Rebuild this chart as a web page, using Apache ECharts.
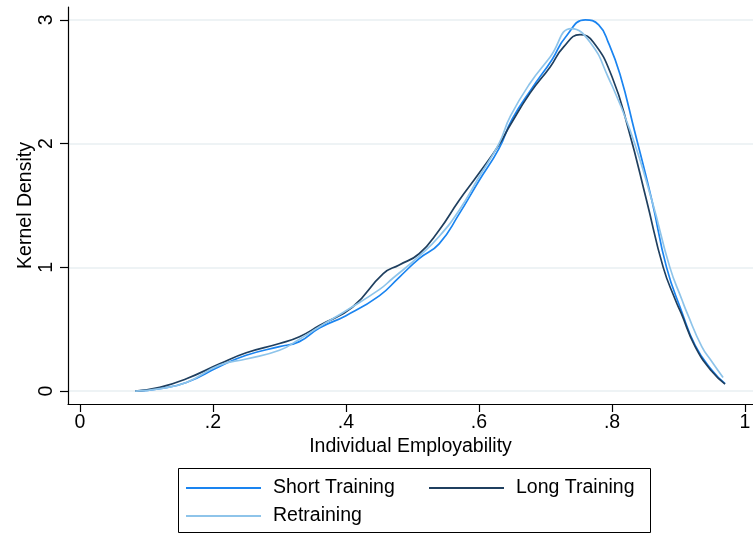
<!DOCTYPE html>
<html>
<head>
<meta charset="utf-8">
<script src="https://cdn.jsdelivr.net/npm/echarts@6/dist/echarts.min.js"></script>
<style>
html,body{margin:0;padding:0;background:#fff;}
#chart{width:753px;height:534px;}
</style>
</head>
<body>
<div id="chart"></div>
<script>
// ---- Data ----
const seriesNames = ['Short Training', 'Long Training', 'Retraining'];

const shortX = [0.083, 0.12, 0.16, 0.21, 0.25, 0.30, 0.33, 0.36, 0.40, 0.45, 0.48, 0.51, 0.54, 0.57, 0.60, 0.63, 0.65, 0.68, 0.71, 0.73, 0.76, 0.78, 0.795, 0.812, 0.834, 0.86, 0.882, 0.905, 0.925, 0.95, 0.97];
const shortY = [0, 0.02, 0.07, 0.20, 0.29, 0.36, 0.40, 0.51, 0.61, 0.77, 0.92, 1.07, 1.19, 1.43, 1.70, 1.96, 2.20, 2.45, 2.68, 2.86, 3.00, 2.96, 2.81, 2.56, 2.10, 1.54, 1.00, 0.64, 0.37, 0.17, 0.06];

const longX = [0.083, 0.12, 0.16, 0.21, 0.25, 0.30, 0.33, 0.36, 0.41, 0.456, 0.48, 0.51, 0.54, 0.57, 0.60, 0.63, 0.647, 0.677, 0.707, 0.727, 0.752, 0.772, 0.80, 0.825, 0.852, 0.877, 0.895, 0.904, 0.925, 0.95, 0.97];
const longY = [0, 0.03, 0.10, 0.22, 0.31, 0.385, 0.44, 0.53, 0.68, 0.95, 1.02, 1.11, 1.30, 1.54, 1.76, 1.99, 2.15, 2.41, 2.62, 2.78, 2.88, 2.82, 2.54, 2.11, 1.54, 1.00, 0.74, 0.63, 0.36, 0.16, 0.057];

const retrainX = [0.083, 0.12, 0.16, 0.21, 0.25, 0.30, 0.33, 0.36, 0.40, 0.45, 0.47, 0.51, 0.54, 0.57, 0.60, 0.63, 0.647, 0.677, 0.707, 0.739, 0.767, 0.794, 0.827, 0.86, 0.887, 0.905, 0.913, 0.935, 0.95, 0.967];
const retrainY = [0, 0.02, 0.07, 0.21, 0.26, 0.33, 0.42, 0.52, 0.65, 0.82, 0.91, 1.09, 1.25, 1.46, 1.73, 2.00, 2.22, 2.49, 2.70, 2.93, 2.82, 2.54, 2.11, 1.54, 1.00, 0.74, 0.63, 0.36, 0.24, 0.11];

const xTicks = [0, 0.2, 0.4, 0.6, 0.8, 1];
const xTickLabels = ['0', '.2', '.4', '.6', '.8', '1'];
const yTicks = [0, 1, 2, 3];
const yTickLabels = ['0', '1', '2', '3'];

const xTitle = 'Individual Employability';
const yTitle = 'Kernel Density';

// ---- Styles ----
const colors = ['#1a84f0', '#1f3f5f', '#8ec4ea'];
const FONT = 'Liberation Sans, Arial, sans-serif';
const FS = 19.5;

function zip(xs, ys) { return xs.map((x, i) => [x, ys[i]]); }
function lbl(ticks, labels) {
  return function (v) {
    for (let i = 0; i < ticks.length; i++) if (Math.abs(ticks[i] - v) < 1e-9) return labels[i];
    return '';
  };
}

const chart = echarts.init(document.getElementById('chart'), null, { renderer: 'canvas' });

const dataSets = [zip(shortX, shortY), zip(longX, longY), zip(retrainX, retrainY)];

const legendCommon = {
  orient: 'vertical',
  top: 478,
  itemWidth: 75,
  itemHeight: 2,
  itemGap: 8,
  itemTextGap: 12,
  icon: 'rect',
  textStyle: { color: '#000', fontSize: 19.5, fontFamily: FONT, padding: [0, 0, 0, 7] },
  padding: 0
};

const option = {
  backgroundColor: '#ffffff',
  animation: false,
  color: colors,
  textStyle: { fontFamily: FONT },
  grid: { left: 68, right: 0, top: 7, bottom: 130, containLabel: false, outerBoundsMode: 'none' },
  xAxis: {
    type: 'value',
    min: -0.018,
    max: 1.012,
    name: xTitle,
    nameLocation: 'middle',
    nameGap: 33,
    nameMoveOverlap: false,
    nameTextStyle: { color: '#000', fontSize: FS, fontFamily: FONT },
    axisLine: { show: true, onZero: false, lineStyle: { color: '#000', width: 1.2 } },
    axisTick: { show: true, length: 8, customValues: xTicks, lineStyle: { color: '#000', width: 1.2 } },
    axisLabel: { customValues: xTicks, formatter: lbl(xTicks, xTickLabels), margin: 9, color: '#000', fontSize: FS, fontFamily: FONT },
    splitLine: { show: false }
  },
  yAxis: {
    type: 'value',
    min: -0.104,
    max: 3.104,
    name: yTitle,
    nameLocation: 'middle',
    nameGap: 32,
    nameRotate: 90,
    nameMoveOverlap: false,
    nameTextStyle: { color: '#000', fontSize: FS, fontFamily: FONT },
    axisLine: { show: true, onZero: false, lineStyle: { color: '#000', width: 1.2 } },
    axisTick: { show: true, length: 8, customValues: yTicks, lineStyle: { color: '#000', width: 1.2 } },
    axisLabel: { customValues: yTicks, formatter: lbl(yTicks, yTickLabels), rotate: 90, margin: 11, color: '#000', fontSize: FS, fontFamily: FONT },
    splitLine: { show: true, lineStyle: { color: '#e8eff2', width: 1.5 } }
  },
  legend: [
    Object.assign({ data: [seriesNames[0], seriesNames[2]], left: 186 }, legendCommon),
    Object.assign({ data: [seriesNames[1]], left: 429 }, legendCommon)
  ],
  graphic: [
    {
      type: 'rect',
      shape: { x: 178.5, y: 468.5, width: 472, height: 64 },
      style: { fill: 'none', stroke: '#000', lineWidth: 1 },
      silent: true
    }
  ],
  series: seriesNames.map((name, i) => ({
    name: name,
    type: 'line',
    data: dataSets[i],
    showSymbol: false,
    symbol: 'none',
    smooth: 0.5,
    lineStyle: { color: colors[i], width: 1.7 },
    itemStyle: { color: colors[i] },
    z: 3 + i
  }))
};

chart.setOption(option);
</script>
</body>
</html>
